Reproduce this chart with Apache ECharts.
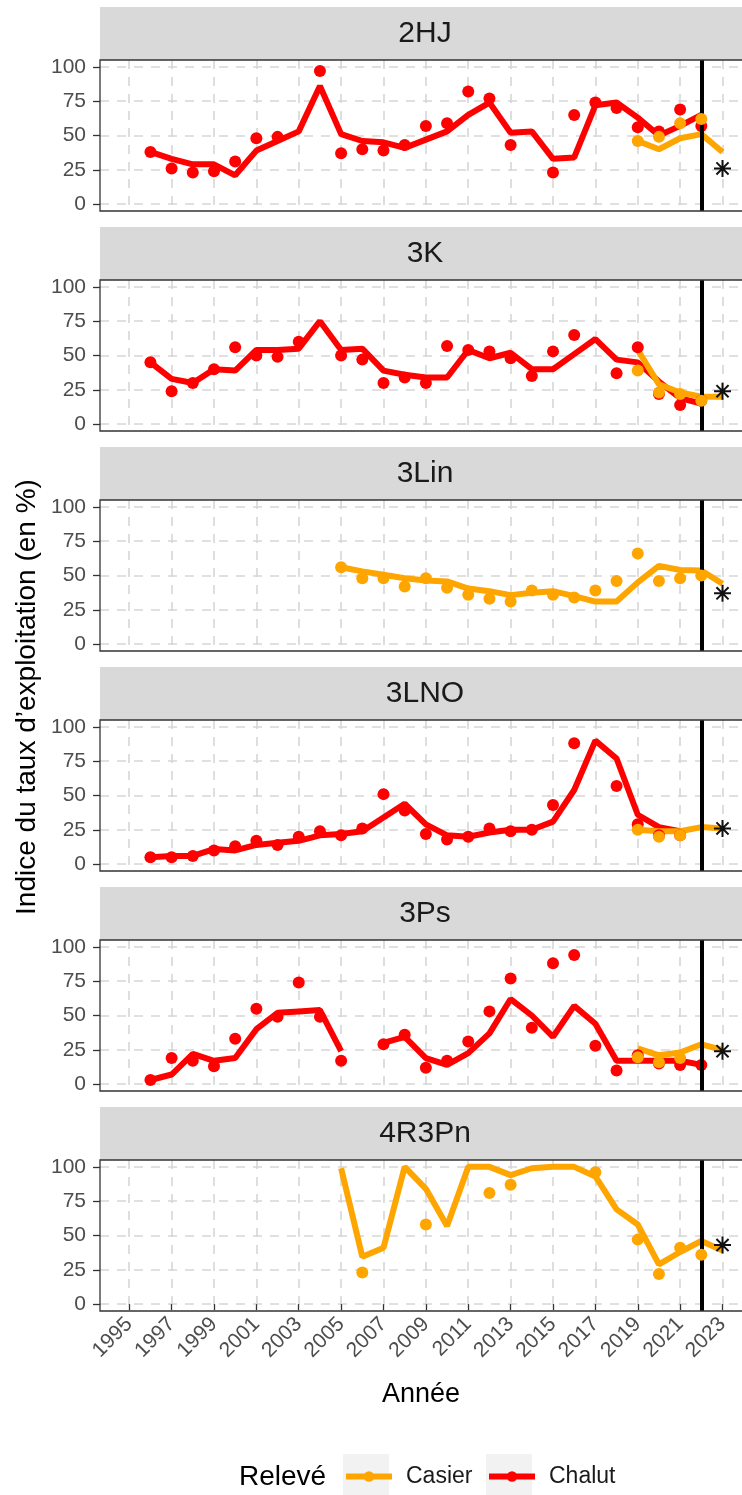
<!DOCTYPE html>
<html>
<head>
<meta charset="utf-8">
<script src="https://cdn.jsdelivr.net/npm/echarts@6/dist/echarts.min.js"></script>
<style>
  html, body { margin: 0; padding: 0; background: #fff; }
</style>
</head>
<body>
<div id="chart" style="width:742px;height:1495px;"></div>
<script>
// années (1996 -> 2023)
var years = [1996, 1997, 1998, 1999, 2000, 2001, 2002, 2003, 2004, 2005, 2006, 2007, 2008, 2009,
             2010, 2011, 2012, 2013, 2014, 2015, 2016, 2017, 2018, 2019, 2020, 2021, 2022, 2023];
var panels = ["2HJ", "3K", "3Lin", "3LNO", "3Ps", "4R3Pn"];
var xTicks = [1995, 1997, 1999, 2001, 2003, 2005, 2007, 2009, 2011, 2013, 2015, 2017, 2019, 2021, 2023];
var yTicks = [0, 25, 50, 75, 100];
var refYear = 2022;
var starYear = 2023;

// 2HJ
var chalutPts2HJ  = [38, 26, 23, 24, 31, 48, 49, null, 97, 37, 40, 39, 43, 57, 59, 82, 77, 43, null, 23, 65, 74, 70, 56, 53, 69, 57, null];
var chalutLine2HJ = [38, 33, 29, 29, 21, 39, 46, 53, 86, 51, 46, 45, 41, 47, 53, 65, 74, 52, 53, 33, 34, 72, 74, 63, 50, 57, 65, null];
var casierPts2HJ  = [null, null, null, null, null, null, null, null, null, null, null, null, null, null, null, null, null, null, null, null, null, null, null, 46, 49, 59, 62, null];
var casierLine2HJ = [null, null, null, null, null, null, null, null, null, null, null, null, null, null, null, null, null, null, null, null, null, null, null, 46, 40, 48, 51, 38];
// 3K
var chalutPts3K  = [45, 24, 30, 40, 56, 50, 49, 60, null, 50, 47, 30, 34, 30, 57, 54, 53, 48, 35, 53, 65, null, 37, 56, 22, 14, 17, null];
var chalutLine3K = [45, 33, 30, 40, 39, 54, 54, 55, 75, 54, 55, 39, 36, 34, 34, 54, 48, 52, 40, 40, 51, 62, 47, 45, 31, 19, 15, null];
var casierPts3K  = [null, null, null, null, null, null, null, null, null, null, null, null, null, null, null, null, null, null, null, null, null, null, null, 39, 23, 22, 17, null];
var casierLine3K = [null, null, null, null, null, null, null, null, null, null, null, null, null, null, null, null, null, null, null, null, null, null, null, 54, 29, 23, 20, 20];
// 3Lin
var chalutPts3Lin  = [];
var chalutLine3Lin = [];
var casierPts3Lin  = [null, null, null, null, null, null, null, null, null, 56, 48, 48, 42, 48, 41, 36, 33, 31, 39, 36, 34, 39, 46, 66, 46, 48, 50, null];
var casierLine3Lin = [null, null, null, null, null, null, null, null, null, 56, 53, 50.5, 48, 46.4, 45.7, 40.5, 38.6, 35.7, 37.4, 38.6, 35, 31, 31, 45, 57, 54, 53.6, 44];
// 3LNO
var chalutPts3LNO  = [5, 5, 6, 10, 13, 17, 14, 20, 24, 21, 26, 51, 39, 22, 18, 20, 26, 24, 25, 43, 88, null, 57, 29, 21, 21, null, null];
var chalutLine3LNO = [5, 6, 6, 11, 10, 14, 15.5, 17, 21, 22, 24, 34, 44, 29, 21, 20, 23, 25, 25, 31, 54, 90, 77, 36, 27, 24, null, null];
var casierPts3LNO  = [null, null, null, null, null, null, null, null, null, null, null, null, null, null, null, null, null, null, null, null, null, null, null, 25, 20, 21, null, null];
var casierLine3LNO = [null, null, null, null, null, null, null, null, null, null, null, null, null, null, null, null, null, null, null, null, null, null, null, 25, 24, 24, 27, 26];
// 3Ps
var chalutPts3Ps  = [3, 19, 17, 13, 33, 55, 49, 74, 49, 17, null, 29, 36, 12, 17, 31, 53, 77, 41, 88, 94, 28, 10, 21, 15, 14, 14, null];
var chalutLine3Ps = [3, 7, 22, 17, 19, 40, 52, 53, 54, 24, null, 30, 34.5, 19, 14, 22.6, 37, 62, 50, 34.5, 57, 44, 17, 17, 17, 17, 14, null];
var casierPts3Ps  = [null, null, null, null, null, null, null, null, null, null, null, null, null, null, null, null, null, null, null, null, null, null, null, 19.5, 16, 19, null, null];
var casierLine3Ps = [null, null, null, null, null, null, null, null, null, null, null, null, null, null, null, null, null, null, null, null, null, null, null, 26, 21, 23, 29, 25];
// 4R3Pn
var chalutPts4R3Pn  = [];
var chalutLine4R3Pn = [];
var casierPts4R3Pn  = [null, null, null, null, null, null, null, null, null, null, 23, null, null, 58, null, null, 81, 87, null, null, null, 96, null, 47, 22, 41, 36, null];
var casierLine4R3Pn = [null, null, null, null, null, null, null, null, null, 99, 34.5, 41, 100, 84, 57, 100, 100, 94, 99, 100, 100, 93, 69, 58, 29, 38, 46, 39];

// valeur de référence (astérisque) en 2023
var starValues = [26, 24, 37, 26, 24, 43];

var chalutPts  = [chalutPts2HJ, chalutPts3K, chalutPts3Lin, chalutPts3LNO, chalutPts3Ps, chalutPts4R3Pn];
var chalutLine = [chalutLine2HJ, chalutLine3K, chalutLine3Lin, chalutLine3LNO, chalutLine3Ps, chalutLine4R3Pn];
var casierPts  = [casierPts2HJ, casierPts3K, casierPts3Lin, casierPts3LNO, casierPts3Ps, casierPts4R3Pn];
var casierLine = [casierLine2HJ, casierLine3K, casierLine3Lin, casierLine3LNO, casierLine3Ps, casierLine4R3Pn];

var RED = "#FF0000";
var ORANGE = "#FFA500";
var FONT = "Liberation Sans";

function linePairs(vals) {
  return years.map(function (y, i) {
    var v = vals[i];
    return [y, v == null ? "-" : v];
  });
}
function pointPairs(vals) {
  var out = [];
  years.forEach(function (y, i) {
    if (vals[i] != null) out.push([y, vals[i]]);
  });
  return out;
}

var gridLine = { color: "#d6d6d6", width: 1.6, type: [9, 8] };
var grids = [], xAxes = [], yAxes = [], series = [], graphics = [];

panels.forEach(function (p, i) {
  var top = 60 + 220 * i;
  // le panneau déborde à droite dans l'original : pas de bordure droite
  grids.push({ left: 100, top: top, width: 642, height: 151, show: true, backgroundColor: "#fff", borderWidth: 0 });
  graphics.push({ type: "polyline", silent: true, z: 10,
    shape: { points: [[742, top], [100, top], [100, top + 151], [742, top + 151]] },
    style: { stroke: "#333", lineWidth: 1.3, fill: null } });

  var last = i === panels.length - 1;
  xAxes.push({
    type: "value", gridIndex: i, min: 1993.62, max: 2023.92,
    axisLine: { show: false },
    axisTick: { show: last, length: 6, customValues: xTicks, lineStyle: { color: "#333", width: 1.3 } },
    axisLabel: { show: last, customValues: xTicks, rotate: 45, margin: 10, fontSize: 21, color: "#4d4d4d", fontFamily: FONT,
      formatter: function (v) { return String(v); } },
    splitLine: { show: true, lineStyle: gridLine },
    name: last ? "Année" : "", nameLocation: "middle", nameGap: 70,
    nameTextStyle: { fontSize: 27, color: "#000", fontFamily: FONT }
  });
  yAxes.push({
    type: "value", gridIndex: i, min: -5, max: 105,
    axisLine: { show: false },
    axisTick: { show: true, length: 7, customValues: yTicks, lineStyle: { color: "#333", width: 1.3 } },
    axisLabel: { customValues: yTicks, margin: 14, fontSize: 21, color: "#4d4d4d", fontFamily: FONT },
    splitLine: { show: true, lineStyle: gridLine }
  });

  // bandeau du panneau
  graphics.push({ type: "rect", shape: { x: 100, y: 7 + 220 * i, width: 660, height: 53 }, style: { fill: "#d9d9d9" }, silent: true });
  graphics.push({ type: "text", x: 425, y: 34 + 220 * i, silent: true,
    style: { text: p, fontSize: 30, fontFamily: FONT, fill: "#1a1a1a", textAlign: "center", textVerticalAlign: "middle" } });

  if (chalutLine[i].length) {
    series.push({ name: "Chalut", type: "line", xAxisIndex: i, yAxisIndex: i, data: linePairs(chalutLine[i]),
      symbol: "none", color: RED, lineStyle: { color: RED, width: 6 }, z: 2, animation: false });
  }
  series.push({ name: "Casier", type: "line", xAxisIndex: i, yAxisIndex: i, data: linePairs(casierLine[i]),
    symbol: "none", color: ORANGE, lineStyle: { color: ORANGE, width: 6 }, z: 3, animation: false });
  if (chalutPts[i].length) {
    series.push({ name: "Chalut pts", type: "scatter", xAxisIndex: i, yAxisIndex: i, data: pointPairs(chalutPts[i]),
      symbolSize: 12, itemStyle: { color: RED, opacity: 1 }, z: 4, animation: false });
  }
  series.push({ name: "Casier pts", type: "scatter", xAxisIndex: i, yAxisIndex: i, data: pointPairs(casierPts[i]),
    symbolSize: 12, itemStyle: { color: ORANGE, opacity: 1 }, z: 5, animation: false });
  series.push({ name: "Référence", type: "scatter", xAxisIndex: i, yAxisIndex: i, data: [[starYear, starValues[i]]],
    symbol: "path://M8,0L8,16M0,8L16,8M2.3,2.3L13.7,13.7M2.3,13.7L13.7,2.3", symbolSize: 17,
    itemStyle: { color: "rgba(0,0,0,0)", borderColor: "#111", borderWidth: 2, opacity: 1 }, z: 7, animation: false,
    markLine: { silent: true, symbol: ["none", "none"], animation: false, label: { show: false },
      lineStyle: { color: "#000", width: 4, type: "solid" }, data: [{ xAxis: refYear }] } });
});

// titre de l'axe y
graphics.push({ type: "text", x: 27, y: 697, rotation: Math.PI / 2, silent: true,
  style: { text: "Indice du taux d\u2019exploitation (en %)", fontSize: 28, fontFamily: FONT, fill: "#000",
    textAlign: "center", textVerticalAlign: "middle" } });
// légende
graphics.push({ type: "text", x: 239, y: 1477, silent: true,
  style: { text: "Relevé", fontSize: 28, fontFamily: FONT, fill: "#000", textVerticalAlign: "middle" } });
graphics.push({ type: "rect", shape: { x: 343, y: 1454, width: 46, height: 42 }, style: { fill: "#f2f2f2" }, silent: true, z: -1 });
graphics.push({ type: "rect", shape: { x: 486, y: 1454, width: 46, height: 42 }, style: { fill: "#f2f2f2" }, silent: true, z: -1 });

function legendFor(name, left) {
  return {
    data: [name], left: left, top: 1465, orient: "horizontal", selectedMode: false,
    itemWidth: 46, itemHeight: 13, itemGap: 0, padding: 0,
    lineStyle: { width: 6 },
    textStyle: { fontSize: 23, color: "#1a1a1a", fontFamily: FONT, padding: [0, 0, 0, 9] }
  };
}

var myChart = echarts.init(document.getElementById("chart"));
var option = {
  animation: false,
  backgroundColor: "#fff",
  textStyle: { fontFamily: FONT },
  grid: grids,
  xAxis: xAxes,
  yAxis: yAxes,
  legend: [legendFor("Casier", 343), legendFor("Chalut", 486)],
  graphic: graphics,
  series: series
};
myChart.setOption(option);
</script>
</body>
</html>
